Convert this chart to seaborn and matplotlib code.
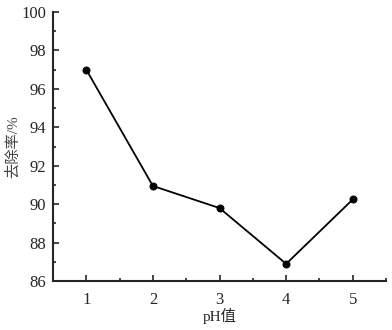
import numpy as np
import matplotlib
matplotlib.use("Agg")
import matplotlib.pyplot as plt
import seaborn as sns
from matplotlib.ticker import MultipleLocator

ph = [1, 2, 3, 4, 5]
removal = [97.0, 90.95, 89.8, 86.9, 90.25]

sns.set_style("ticks")
plt.rcParams['font.family'] = ['Liberation Serif', 'Noto Sans CJK SC']
plt.rcParams['axes.unicode_minus'] = False

fig = plt.figure(figsize=(3.92, 3.3), dpi=100)
ax = fig.add_axes([0.135, 0.148, 0.85, 0.816])

sns.lineplot(x=ph, y=removal, ax=ax, color='black', lw=1.3,
             marker='o', markersize=5, markeredgecolor='black')

ax.set_xlim(0.5, 5.5)
ax.set_ylim(86, 100)
ax.xaxis.set_major_locator(MultipleLocator(1))
ax.xaxis.set_minor_locator(MultipleLocator(0.5))
ax.yaxis.set_major_locator(MultipleLocator(2))
ax.yaxis.set_minor_locator(MultipleLocator(1))
ax.tick_params(which='both', direction='in', width=1.2, labelsize=12)
ax.tick_params(which='major', length=4)
ax.tick_params(which='minor', length=2.5)
ax.tick_params(axis='x', pad=8)
ax.tick_params(axis='y', pad=5)
for s in ['left', 'bottom']:
    ax.spines[s].set_linewidth(1.5)
sns.despine(ax=ax)

ax.set_xlabel('pH值', fontsize=11, labelpad=0)
ax.set_ylabel('去除率/%', fontsize=11, color='#444444', labelpad=1)

fig.savefig('out.png', dpi=100)
